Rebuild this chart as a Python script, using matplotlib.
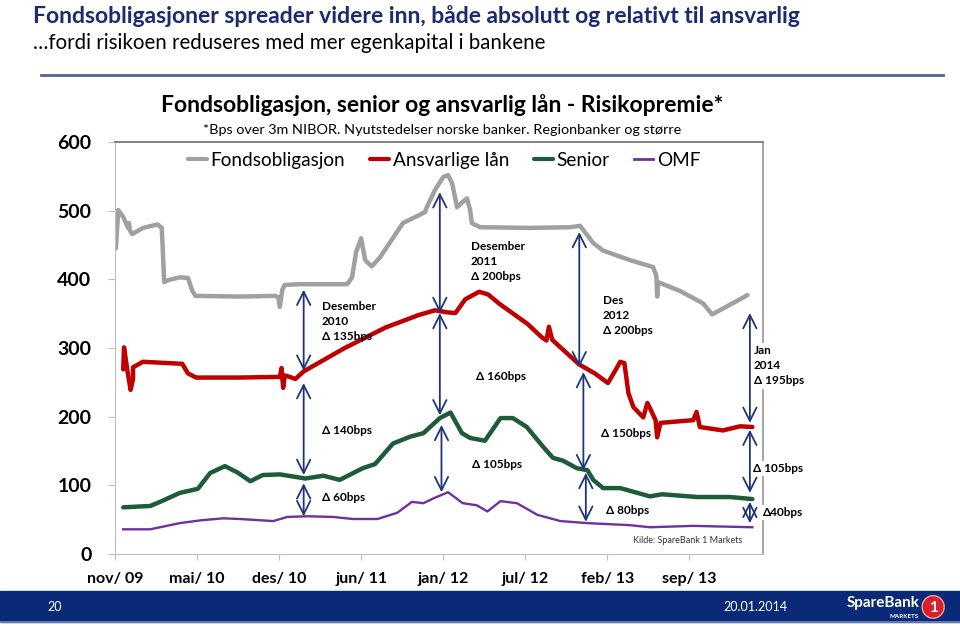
import matplotlib
matplotlib.use('Agg')
import matplotlib.pyplot as plt
from matplotlib.patches import Rectangle, Ellipse
from matplotlib.lines import Line2D

plt.rcParams['font.family'] = ['Lato', 'DejaVu Sans']

# x is measured in tick intervals (0 = nov/09, 1 = mai/10, ...)
tick_labels = ['nov/ 09', 'mai/ 10', 'des/ 10', 'jun/ 11', 'jan/ 12', 'jul/ 12', 'feb/ 13', 'sep/ 13']

fond_x = [0.01, 0.04, 0.10, 0.16, 0.17, 0.18, 0.21, 0.34, 0.52, 0.57, 0.60, 0.65, 0.79, 0.89, 0.94, 0.98,
          1.52, 1.95, 1.99, 2.01, 2.04, 2.07, 2.26, 2.83, 2.89, 2.94, 3.00, 3.05, 3.13, 3.23, 3.51, 3.78,
          3.80, 3.90, 4.00, 4.06, 4.11, 4.17, 4.23, 4.29, 4.33, 4.35, 4.45, 5.06, 5.55, 5.67, 5.83, 5.95,
          6.28, 6.56, 6.60, 6.61, 6.62, 6.89, 7.17, 7.28, 7.71]
fond_y = [445, 501, 491, 475, 482, 472, 466, 475, 480, 475, 396, 399, 403, 402, 384, 376,
          375, 376, 374, 360, 385, 392, 393, 393, 403, 440, 460, 428, 419, 432, 482, 498,
          505, 530, 549, 552, 540, 505, 512, 518, 501, 482, 476, 475, 476, 478, 453, 442,
          428, 418, 405, 375, 396, 383, 365, 349, 377]

ansv_x = [0.10, 0.11, 0.15, 0.19, 0.22, 0.22, 0.34, 0.82, 0.89, 0.99, 1.50, 2.01, 2.03, 2.05, 2.07, 2.13,
          2.20, 2.30, 2.80, 3.30, 3.70, 3.90, 4.05, 4.15, 4.27, 4.44, 4.55, 4.68, 5.03, 5.20, 5.26, 5.29,
          5.33, 5.66, 5.85, 6.01, 6.16, 6.21, 6.26, 6.32, 6.44, 6.49, 6.52, 6.59, 6.61, 6.65, 7.05, 7.09,
          7.13, 7.41, 7.62, 7.77]
ansv_y = [269, 301, 268, 239, 255, 272, 280, 277, 263, 257, 257, 258, 271, 242, 260, 258,
          255, 266, 300, 330, 348, 355, 352, 351, 371, 382, 378, 365, 335, 316, 311, 331,
          312, 276, 263, 249, 280, 278, 234, 214, 199, 220, 213, 195, 170, 191, 195, 207,
          185, 180, 186, 185]

senior_x = [0.10, 0.43, 0.55, 0.79, 1.01, 1.16, 1.34, 1.49, 1.65, 1.80, 2.01, 2.32, 2.54, 2.74, 3.02, 3.17,
            3.39, 3.60, 3.76, 3.96, 4.09, 4.23, 4.33, 4.51, 4.70, 4.85, 5.02, 5.22, 5.34, 5.46, 5.63, 5.76,
            5.83, 5.95, 6.16, 6.52, 6.67, 7.10, 7.50, 7.77]
senior_y = [68, 70, 76, 89, 95, 118, 128, 119, 106, 115, 116, 110, 114, 108, 125, 131,
            161, 171, 176, 198, 206, 176, 169, 165, 198, 198, 185, 156, 140, 136, 125, 122,
            108, 96, 96, 84, 87, 83, 83, 80]

omf_x = [0.10, 0.43, 0.79, 1.04, 1.32, 1.52, 1.93, 2.10, 2.34, 2.66, 2.90, 3.20, 3.44, 3.62, 3.76, 3.88,
         4.06, 4.24, 4.41, 4.54, 4.70, 4.90, 5.15, 5.43, 5.76, 6.28, 6.52, 7.05, 7.77]
omf_y = [36, 36, 45, 49, 52, 51, 48, 54, 55, 54, 51, 51, 60, 76, 74, 81,
         90, 74, 71, 62, 77, 74, 57, 48, 45, 42, 39, 41, 39]

# spread arrows: x, from, to
arrow_x = [2.30, 2.30, 2.30, 3.96, 3.96, 3.98, 5.66, 5.71, 5.74, 7.74, 7.74, 7.74]
arrow_y0 = [385, 249, 103, 527, 351, 188, 469, 265, 118, 351, 181, 76]
arrow_y1 = [267, 115, 55, 351, 202, 90, 272, 122, 47, 191, 89, 45]

note_x = [2.52, 2.52, 2.52, 4.34, 4.40, 4.35, 5.95, 5.93, 5.98, 7.79, 7.78, 7.90]
note_y = [368, 180, 82, 456, 258, 130, 377, 175, 64, 304, 125, 60]
note_text = ['Desember\n2010\nΔ 135bps', 'Δ 140bps', 'Δ 60bps',
             'Desember\n2011\nΔ 200bps', 'Δ 160bps', 'Δ 105bps',
             'Des\n2012\nΔ 200bps', 'Δ 150bps', 'Δ 80bps',
             'Jan\n2014\nΔ 195bps', 'Δ 105bps', 'Δ40bps']

navy = '#1F3578'


def draw_slide(fig):
    # slide header
    fig.text(0.034, 0.974, 'Fondsobligasjoner spreader videre inn, både absolutt og relativt til ansvarlig',
             fontsize=16.5, fontweight='bold', color='#1B2B6E', va='center')
    fig.text(0.034, 0.931, '…fordi risikoen reduseres med mer egenkapital i bankene',
             fontsize=14.8, color='black', va='center')
    fig.add_artist(Line2D([0.043, 0.982], [0.881, 0.881], color='#56648F', lw=2))

    # footer
    fig.patches.append(Rectangle((0, 0.008), 1, 0.050, transform=fig.transFigure,
                                 color='#0A2A78', zorder=0))
    fig.add_artist(Line2D([0, 1], [0.008, 0.008], color='#6F88BE', lw=1.2))
    fig.text(0.049, 0.032, '20', color='white', fontsize=9, va='center')
    fig.text(0.787, 0.032, '20.01.2014', color='white', fontsize=9, va='center', ha='center')
    fig.text(0.958, 0.039, 'SpareBank', color='white', fontsize=11, fontweight='bold',
             va='center', ha='right')
    fig.text(0.957, 0.017, 'MARKETS', color='white', fontsize=4.5, fontweight='bold',
             va='center', ha='right')
    fig.patches.append(Ellipse((0.972, 0.032), 0.023, 0.036, transform=fig.transFigure,
                               facecolor='#D6202A', edgecolor='#F0A0A0', lw=1))
    fig.text(0.972, 0.031, '1', color='white', fontsize=11, fontweight='bold',
             va='center', ha='center')

    # chart heading
    fig.text(0.461, 0.833, 'Fondsobligasjon, senior og ansvarlig lån - Risikopremie*',
             fontsize=16.5, fontweight='bold', ha='center', va='center')
    fig.text(0.461, 0.793, '*Bps over 3m NIBOR. Nyutstedelser norske banker. Regionbanker og større',
             fontsize=10.4, ha='center', va='center')


def draw_chart(fig):
    ax = fig.add_axes([0.1198, 0.1164, 0.675, 0.657])
    ax.plot(fond_x, fond_y, color='#A0A0A0', lw=3.2, label='Fondsobligasjon',
            solid_joinstyle='round', solid_capstyle='round')
    ax.plot(ansv_x, ansv_y, color='#C00000', lw=3.2, label='Ansvarlige lån',
            solid_joinstyle='round', solid_capstyle='round')
    ax.plot(senior_x, senior_y, color='#1D5B39', lw=3.2, label='Senior',
            solid_joinstyle='round', solid_capstyle='round')
    ax.plot(omf_x, omf_y, color='#7030A0', lw=1.7, label='OMF', solid_joinstyle='round')

    ax.set_xlim(0, 7.9)
    ax.set_ylim(0, 600)
    ax.set_yticks(range(0, 601, 100))
    ax.set_yticklabels([str(v) for v in range(0, 601, 100)], fontsize=14, fontweight='bold')
    ax.set_xticks(range(len(tick_labels)))
    ax.set_xticklabels(tick_labels, fontsize=11.5, fontweight='bold')
    ax.tick_params(axis='y', length=5, color='#BFBFBF', pad=12)
    ax.tick_params(axis='x', length=4, color='#BFBFBF', pad=9)

    ax.spines['top'].set_color('#808080')
    ax.spines['top'].set_linewidth(1.4)
    ax.spines['right'].set_color('#A6A6A6')
    ax.spines['right'].set_linewidth(1.4)
    ax.spines['left'].set_color('#BFBFBF')
    ax.spines['bottom'].set_color('#BFBFBF')

    for x, y0, y1 in zip(arrow_x, arrow_y0, arrow_y1):
        ax.annotate('', xy=(x, y1), xytext=(x, y0), zorder=5,
                    arrowprops=dict(arrowstyle='<->,head_length=0.8,head_width=0.4', color=navy,
                                    lw=1.3, mutation_scale=12, shrinkA=0, shrinkB=0))

    for i, (x, y, s) in enumerate(zip(note_x, note_y, note_text)):
        va = 'top' if '\n' in s else 'center'
        box = dict(facecolor='white', edgecolor='none', pad=1.5) if i >= 9 else None
        ax.text(x, y, s, fontsize=8.5, fontweight='bold', va=va, ha='left',
                linespacing=1.45, bbox=box, zorder=4)

    ax.text(7.65, 20, 'Kilde: SpareBank 1 Markets', fontsize=6.5, ha='right', va='center', color='#333333')

    leg = ax.legend(loc='center', bbox_to_anchor=(0.508, 0.956), ncol=4, frameon=False,
                    fontsize=13.7, handlelength=1.0, handletextpad=0.2, columnspacing=1.3)
    for line in leg.get_lines():
        line.set_linewidth(3 if line.get_label() != 'OMF' else 2)
    return ax


def main():
    fig = plt.figure(figsize=(9.6, 6.27), dpi=100)
    draw_slide(fig)
    draw_chart(fig)
    fig.savefig('out.png', dpi=100)
    plt.close(fig)


main()
